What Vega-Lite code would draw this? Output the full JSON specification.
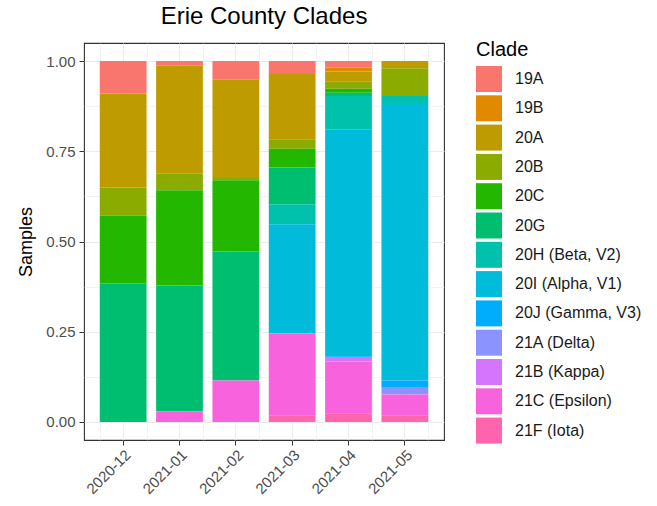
{
  "$schema": "https://vega.github.io/schema/vega-lite/v6.json",
  "width": 360,
  "height": 397,
  "autosize": {"type": "none"},
  "padding": {"left": 84, "top": 43, "right": 213, "bottom": 66},
  "background": "white",
  "title": {"text": "Erie County Clades", "fontSize": 24, "fontWeight": "normal", "color": "#000000", "anchor": "middle", "offset": 11},
  "config": {
    "font": "Liberation Sans",
    "view": {"stroke": "#333333", "strokeWidth": 1.1},
    "axis": {"domain": false, "gridColor": "#EBEBEB", "tickColor": "#333333", "tickSize": 5, "labelColor": "#4D4D4D", "labelFontSize": 15, "titleFontSize": 18, "titleFontWeight": "normal", "titleColor": "#000000"}
  },
  "data": {"values": [
    {"month": "2020-12", "Clade": "19A", "value": 0.090},
    {"month": "2020-12", "Clade": "20A", "value": 0.261},
    {"month": "2020-12", "Clade": "20B", "value": 0.078},
    {"month": "2020-12", "Clade": "20C", "value": 0.187},
    {"month": "2020-12", "Clade": "20G", "value": 0.385},
    {"month": "2021-01", "Clade": "19A", "value": 0.013},
    {"month": "2021-01", "Clade": "20A", "value": 0.299},
    {"month": "2021-01", "Clade": "20B", "value": 0.046},
    {"month": "2021-01", "Clade": "20C", "value": 0.264},
    {"month": "2021-01", "Clade": "20G", "value": 0.348},
    {"month": "2021-01", "Clade": "21C (Epsilon)", "value": 0.030},
    {"month": "2021-02", "Clade": "19A", "value": 0.052},
    {"month": "2021-02", "Clade": "20A", "value": 0.272},
    {"month": "2021-02", "Clade": "20B", "value": 0.006},
    {"month": "2021-02", "Clade": "20C", "value": 0.198},
    {"month": "2021-02", "Clade": "20G", "value": 0.357},
    {"month": "2021-02", "Clade": "21C (Epsilon)", "value": 0.115},
    {"month": "2021-03", "Clade": "19A", "value": 0.036},
    {"month": "2021-03", "Clade": "20A", "value": 0.181},
    {"month": "2021-03", "Clade": "20B", "value": 0.026},
    {"month": "2021-03", "Clade": "20C", "value": 0.052},
    {"month": "2021-03", "Clade": "20G", "value": 0.102},
    {"month": "2021-03", "Clade": "20H (Beta, V2)", "value": 0.055},
    {"month": "2021-03", "Clade": "20I (Alpha, V1)", "value": 0.303},
    {"month": "2021-03", "Clade": "21C (Epsilon)", "value": 0.228},
    {"month": "2021-03", "Clade": "21F (Iota)", "value": 0.017},
    {"month": "2021-04", "Clade": "19A", "value": 0.018},
    {"month": "2021-04", "Clade": "19B", "value": 0.011},
    {"month": "2021-04", "Clade": "20A", "value": 0.027},
    {"month": "2021-04", "Clade": "20B", "value": 0.021},
    {"month": "2021-04", "Clade": "20C", "value": 0.011},
    {"month": "2021-04", "Clade": "20G", "value": 0.009},
    {"month": "2021-04", "Clade": "20H (Beta, V2)", "value": 0.092},
    {"month": "2021-04", "Clade": "20I (Alpha, V1)", "value": 0.628},
    {"month": "2021-04", "Clade": "20J (Gamma, V3)", "value": 0.004},
    {"month": "2021-04", "Clade": "21B (Kappa)", "value": 0.011},
    {"month": "2021-04", "Clade": "21C (Epsilon)", "value": 0.144},
    {"month": "2021-04", "Clade": "21F (Iota)", "value": 0.023},
    {"month": "2021-05", "Clade": "20A", "value": 0.020},
    {"month": "2021-05", "Clade": "20B", "value": 0.077},
    {"month": "2021-05", "Clade": "20H (Beta, V2)", "value": 0.022},
    {"month": "2021-05", "Clade": "20I (Alpha, V1)", "value": 0.765},
    {"month": "2021-05", "Clade": "20J (Gamma, V3)", "value": 0.018},
    {"month": "2021-05", "Clade": "21A (Delta)", "value": 0.021},
    {"month": "2021-05", "Clade": "21C (Epsilon)", "value": 0.059},
    {"month": "2021-05", "Clade": "21F (Iota)", "value": 0.017}
  ]},
  "resolve": {"axis": {"x": "independent", "y": "independent"}},
  "layer": [
    {
      "mark": {"type": "bar", "opacity": 0},
      "encoding": {
        "x": {"field": "month", "type": "nominal", "scale": {"paddingInner": 0.17, "paddingOuter": 0.28},
          "axis": {"orient": "bottom", "tickBand": "extent", "labels": false, "ticks": false, "domain": false, "title": null, "grid": true, "gridWidth": 0.6}},
        "y": {"field": "value", "type": "quantitative", "stack": "normalize", "scale": {"domain": [-0.05, 1.05], "nice": false, "zero": false},
          "axis": {"orient": "left", "values": [0.125, 0.375, 0.625, 0.875], "labels": false, "ticks": false, "domain": false, "title": null, "grid": true, "gridWidth": 0.6}},
        "order": {"field": "Clade", "sort": "descending"}
      }
    },
    {
      "mark": {"type": "bar"},
      "encoding": {
        "x": {"field": "month", "type": "nominal", "title": null,
          "axis": {"orient": "bottom", "labelAngle": -45, "labelAlign": "right", "labelBaseline": "top", "labelPadding": 2, "grid": true, "gridWidth": 1.1}},
        "y": {"field": "value", "type": "quantitative", "stack": "normalize", "title": "Samples",
          "axis": {"orient": "left", "values": [0, 0.25, 0.5, 0.75, 1], "labelExpr": "format(datum.value, '.2f')", "labelPadding": 4, "titlePadding": 10, "grid": true, "gridWidth": 1.1}},
        "color": {"field": "Clade", "type": "nominal",
          "scale": {"domain": ["19A", "19B", "20A", "20B", "20C", "20G", "20H (Beta, V2)", "20I (Alpha, V1)", "20J (Gamma, V3)", "21A (Delta)", "21B (Kappa)", "21C (Epsilon)", "21F (Iota)"],
            "range": ["#F8766D", "#E18A00", "#BE9C00", "#8CAB00", "#24B700", "#00BE70", "#00C1AB", "#00BBDA", "#00ACFC", "#8B93FF", "#D575FE", "#F962DD", "#FF65AC"]},
          "legend": {"orient": "none", "legendX": 392, "legendY": -3, "title": "Clade", "titleFontSize": 20, "titleFontWeight": "normal", "titleColor": "#000000", "titlePadding": 6,
            "symbolType": "square", "symbolSize": 676, "symbolStrokeWidth": 0, "symbolOpacity": 1, "labelFontSize": 16, "labelColor": "#1A1A1A", "labelOffset": 13, "rowPadding": 3.3}},
        "order": {"field": "Clade", "sort": "descending"}
      }
    }
  ]
}
